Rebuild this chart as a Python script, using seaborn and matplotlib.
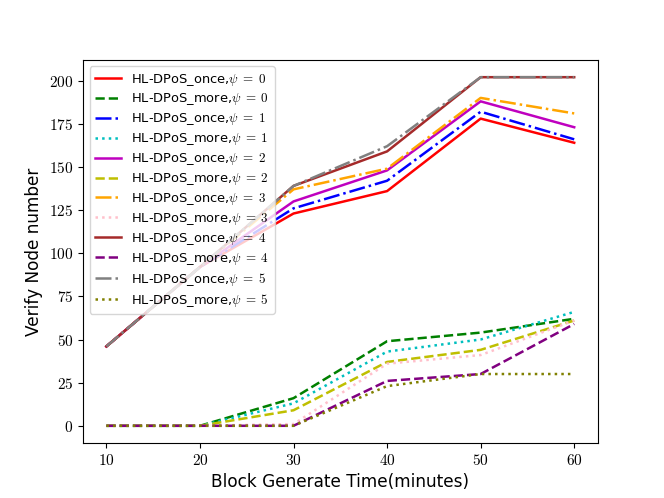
import matplotlib
matplotlib.use("Agg")
import matplotlib.pyplot as plt
import numpy as np
import pandas as pd
import seaborn as sns
from matplotlib.ticker import FuncFormatter

plt.rcParams["mathtext.fontset"] = "cm"

block_time = [10, 20, 30, 40, 50, 60]

# HL-DPoS_once, psi = 0..5
once_0 = [46, 92, 123, 136, 178, 164]
once_1 = [46, 92, 126, 142, 182, 166]
once_2 = [46, 92, 130, 148, 188, 173]
once_3 = [46, 92, 137, 149, 190, 181]
once_4 = [46, 92, 139, 159, 202, 202]
once_5 = [46, 92, 139, 162, 202, 202]

# HL-DPoS_more, psi = 0..5
more_0 = [0, 0, 16, 49, 54, 62]
more_1 = [0, 0, 13, 43, 50, 66]
more_2 = [0, 0, 9, 37, 44, 61]
more_3 = [0, 0, 1, 36, 41, 61]
more_4 = [0, 0, 0, 26, 30, 59]
more_5 = [0, 0, 0, 23, 30, 30]

series = [
    ("HL-DPoS_once,$\\psi\\;=\\;0$", once_0, "red", "-"),
    ("HL-DPoS_more,$\\psi\\;=\\;0$", more_0, "green", "--"),
    ("HL-DPoS_once,$\\psi\\;=\\;1$", once_1, "blue", "-."),
    ("HL-DPoS_more,$\\psi\\;=\\;1$", more_1, "c", ":"),
    ("HL-DPoS_once,$\\psi\\;=\\;2$", once_2, "m", "-"),
    ("HL-DPoS_more,$\\psi\\;=\\;2$", more_2, "y", "--"),
    ("HL-DPoS_once,$\\psi\\;=\\;3$", once_3, "orange", "-."),
    ("HL-DPoS_more,$\\psi\\;=\\;3$", more_3, "pink", ":"),
    ("HL-DPoS_once,$\\psi\\;=\\;4$", once_4, "brown", "-"),
    ("HL-DPoS_more,$\\psi\\;=\\;4$", more_4, "purple", "--"),
    ("HL-DPoS_once,$\\psi\\;=\\;5$", once_5, "gray", "-."),
    ("HL-DPoS_more,$\\psi\\;=\\;5$", more_5, "olive", ":"),
]

fig, ax = plt.subplots(figsize=(6.64, 4.98), dpi=100)
for label, values, color, ls in series:
    df = pd.DataFrame({"time": block_time, "nodes": values})
    sns.lineplot(data=df, x="time", y="nodes", ax=ax, color=color,
                 linestyle=ls, linewidth=1.8, label=label)

ax.set_xticks(block_time)
ax.set_yticks(np.arange(0, 201, 25))
fmt = FuncFormatter(lambda v, pos: f"${v:g}$")
ax.xaxis.set_major_formatter(fmt)
ax.yaxis.set_major_formatter(fmt)
ax.tick_params(labelsize=11)
ax.set_xlabel("Block Generate Time(minutes)", fontsize=12.2)
ax.set_ylabel("Verify Node number", fontsize=12.2)
ax.legend(loc="upper left", fontsize=9.4, labelspacing=0.3)
plt.savefig("out.png", dpi=100)
